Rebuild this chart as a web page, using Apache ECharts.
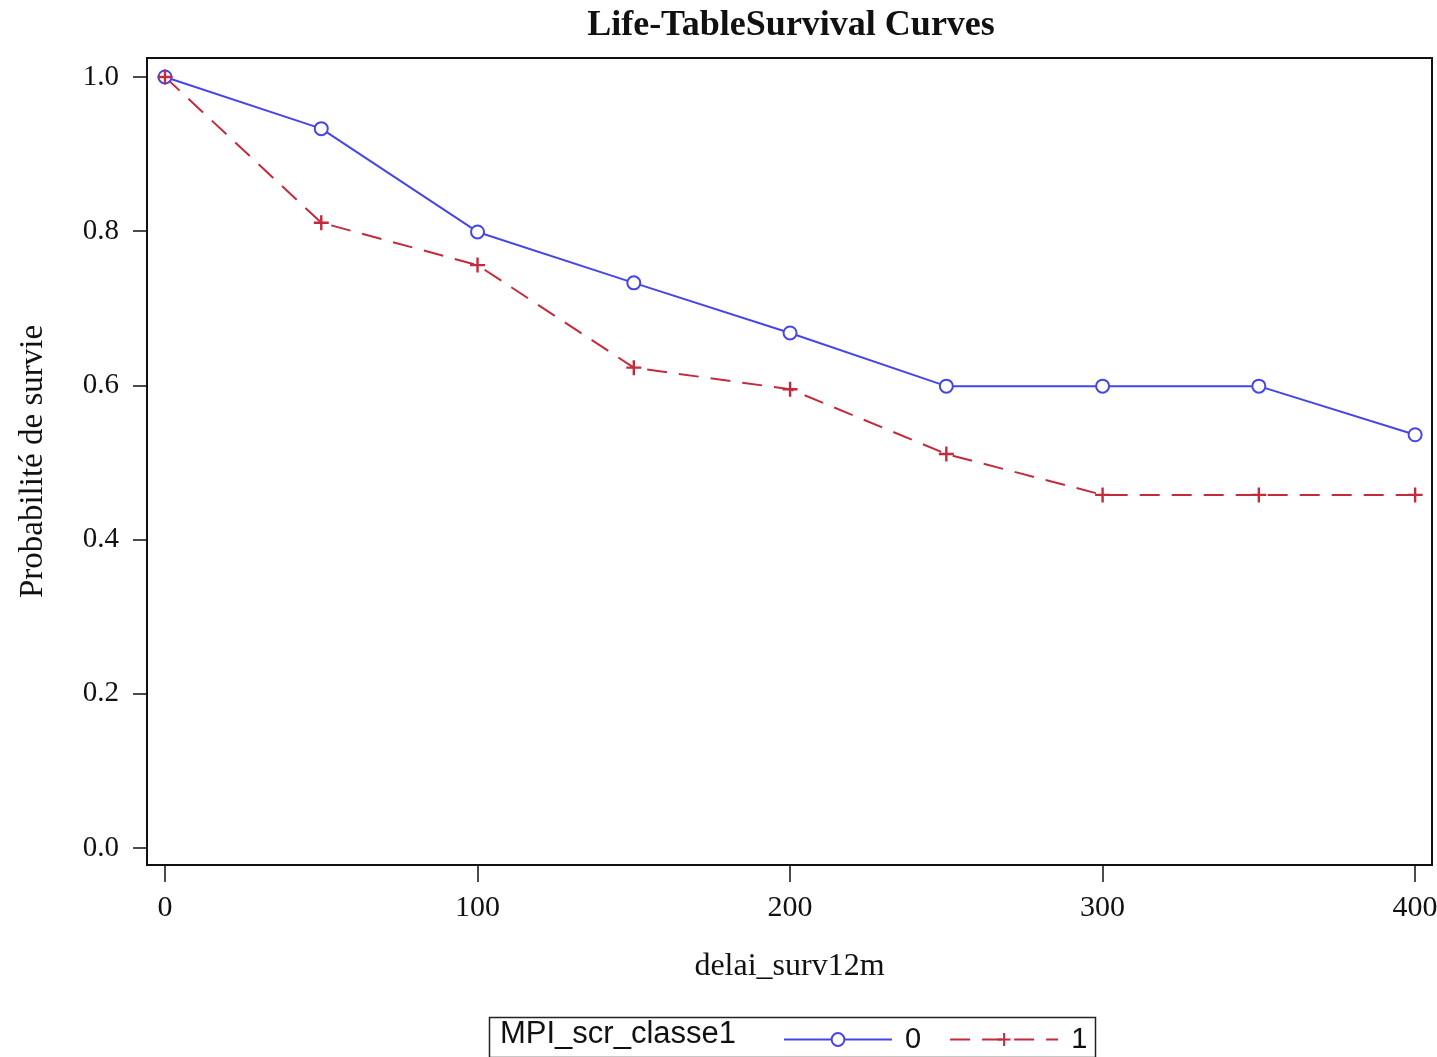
<!DOCTYPE html>
<html>
<head>
<meta charset="utf-8">
<script src="https://cdn.jsdelivr.net/npm/echarts@6/dist/echarts.min.js"></script>
<style>
html,body{margin:0;padding:0;background:#fff;}
#chart{width:1437px;height:1057px;}
</style>
</head>
<body>
<div id="chart"></div>
<script>
var timePoints = [0, 50, 100, 150, 200, 250, 300, 350, 400];
var survival0 = [1.0, 0.933, 0.799, 0.733, 0.668, 0.599, 0.599, 0.599, 0.536];
var survival1 = [1.0, 0.811, 0.756, 0.623, 0.595, 0.511, 0.458, 0.458, 0.458];
var seriesNames = ['0', '1'];
var xTicks = [0, 100, 200, 300, 400];
var yTicks = [0.0, 0.2, 0.4, 0.6, 0.8, 1.0];
var titleText = 'Life-TableSurvival Curves';
var xName = 'delai_surv12m';
var yName = 'Probabilité de survie';
var legendTitle = 'MPI_scr_classe1';

function pairs(xs, ys){ return xs.map(function(x,i){ return [x, ys[i]]; }); }

var BLUE = '#4646e6';
var RED = '#c42a3e';
var SERIF = '"Liberation Serif", "Times New Roman", serif';
var plusPath = 'path://M4.2,0 H5.8 V4.2 H10 V5.8 H5.8 V10 H4.2 V5.8 H0 V4.2 H4.2 Z';

var chart = echarts.init(document.getElementById('chart'), null, {renderer:'canvas'});
chart.setOption({
  backgroundColor: '#fff',
  animation: false,
  title: {
    text: titleText, left: 786, top: 3, textAlign: 'center',
    textStyle: {fontFamily: SERIF, fontWeight: 'bold', fontSize: 36, color: '#111'}
  },
  grid: {left: 147, right: 5, top: 58, bottom: 192, show: true, borderColor: '#111', borderWidth: 2,
    backgroundColor: '#fff', containLabel: false, outerBoundsMode: 'none'},
  xAxis: {
    type: 'value', min: -5.76, max: 405.4,
    name: xName, nameLocation: 'middle', nameGap: 86,
    nameTextStyle: {fontFamily: SERIF, fontSize: 32, color: '#111'},
    axisLine: {show: true, onZero: false, lineStyle: {color: '#111', width: 2}},
    axisTick: {show: true, length: 17, customValues: xTicks, lineStyle: {color: '#111', width: 1.5}},
    axisLabel: {customValues: xTicks, margin: 28, fontFamily: SERIF, fontSize: 30, color: '#111'},
    splitLine: {show: false}
  },
  yAxis: {
    type: 'value', min: -0.022, max: 1.0246,
    name: yName, nameLocation: 'middle', nameGap: 97,
    nameTextStyle: {fontFamily: SERIF, fontSize: 33, color: '#111'},
    axisLine: {show: true, onZero: false, lineStyle: {color: '#111', width: 2}},
    axisTick: {show: true, length: 14, customValues: yTicks, lineStyle: {color: '#111', width: 1.5}},
    axisLabel: {customValues: yTicks, margin: 28, fontFamily: SERIF, fontSize: 29, color: '#111',
      formatter: function(v){ return v.toFixed(1); }},
    splitLine: {show: false}
  },
  legend: {
    left: 778, top: 1020, itemWidth: 108, itemHeight: 16, itemGap: 28,
    textStyle: {fontFamily: '"Liberation Sans", sans-serif', fontSize: 29, color: '#111', padding: [0,0,0,8]},
    data: seriesNames
  },
  graphic: [
    {type: 'rect', left: 487, top: 1015, shape: {width: 606, height: 40}, style: {fill: 'none', stroke: '#222', lineWidth: 1.5}, z: 100},
    {type: 'text', left: 500, top: 1019, style: {text: legendTitle, fontFamily: '"Liberation Sans", sans-serif', fontSize: 31, fill: '#111'}, z: 100}
  ],
  series: [
    {
      name: seriesNames[0], type: 'line', data: pairs(timePoints, survival0),
      symbol: 'emptyCircle', symbolSize: 13, showAllSymbol: true,
      lineStyle: {color: BLUE, width: 2},
      itemStyle: {color: BLUE, borderColor: BLUE, borderWidth: 2}
    },
    {
      name: seriesNames[1], type: 'line', data: pairs(timePoints, survival1),
      symbol: plusPath, symbolSize: 15, showAllSymbol: true,
      lineStyle: {color: RED, width: 2, type: [20, 12]},
      itemStyle: {color: RED, borderWidth: 0}
    }
  ]
});
</script>
</body>
</html>
